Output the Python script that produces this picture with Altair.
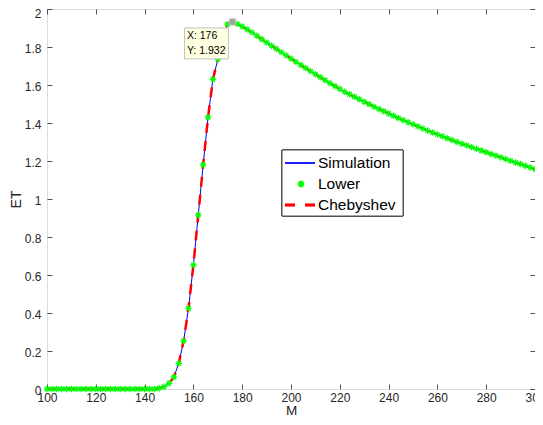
import altair as alt
import pandas as pd

# ---- data ----
M = list(range(100, 302, 2))
ET = [0.0] * 23 + [
    0.004, 0.012, 0.030, 0.063, 0.135, 0.253, 0.425, 0.653,
    0.916, 1.180, 1.430, 1.630, 1.735, 1.830, 1.920, 1.932,
    1.922, 1.908, 1.893, 1.877, 1.859, 1.841, 1.824, 1.807,
    1.790, 1.773, 1.756, 1.739, 1.722, 1.705, 1.689, 1.673,
    1.657, 1.641, 1.625, 1.609, 1.594, 1.579, 1.564, 1.551,
    1.538, 1.525, 1.512, 1.499, 1.486, 1.474, 1.462, 1.450,
    1.438, 1.426, 1.415, 1.404, 1.393, 1.382, 1.371, 1.360,
    1.350, 1.340, 1.330, 1.320, 1.310, 1.300, 1.291, 1.282,
    1.273, 1.264, 1.255, 1.246, 1.237, 1.228, 1.219, 1.210,
    1.201, 1.192, 1.184, 1.175, 1.166, 1.157,
]
SIMULATION = ET
LOWER = ET
CHEBYSHEV = ET
SERIES = ["Simulation", "Lower", "Chebyshev"]
X_TICKS = [100, 120, 140, 160, 180, 200, 220, 240, 260, 280, 300]
Y_TICKS = [0, 0.2, 0.4, 0.6, 0.8, 1, 1.2, 1.4, 1.6, 1.8, 2]

df = pd.DataFrame({"M": M, "Simulation": SIMULATION, "Lower": LOWER, "Chebyshev": CHEBYSHEV})
ipk = SIMULATION.index(max(SIMULATION))
peak = pd.DataFrame({
    "M": [M[ipk]], "ET": [SIMULATION[ipk]],
    "tx": [f"X: {M[ipk]}"], "ty": [f"Y: {SIMULATION[ipk]:.3f}"],
})

FONT = "Liberation Sans"
AX = "#262626"
ASTER = "M-1,0L1,0M0,-1L0,1M-0.7,-0.7L0.7,0.7M-0.7,0.7L0.7,-0.7"
W, H = 488, 380

xs = alt.Scale(domain=[100, 300], nice=False, zero=False)
ys = alt.Scale(domain=[0, 2], nice=False, zero=False)
xax = alt.Axis(values=X_TICKS, labelFlush=False, labelOverlap=False, ticks=False, domain=False,
               grid=True, gridDash=[5, H - 10, 5], gridColor=AX, gridWidth=0.8, gridOpacity=1,
               labelFontSize=12, labelColor=AX, labelPadding=3, labelFont=FONT,
               titleFontSize=13.5, titleFontWeight="normal", titleColor=AX, titleFont=FONT,
               titleY=21.5, titleBaseline="middle")
yax = alt.Axis(values=Y_TICKS, format="~g", labelOverlap=False, ticks=False, domain=False,
               grid=True, gridDash=[5, W - 10, 5], gridColor=AX, gridWidth=0.8, gridOpacity=1,
               labelFontSize=12, labelColor=AX, labelPadding=6, labelFont=FONT,
               labelOffset={"condition": {"test": "datum.value == 2", "value": 4}, "value": 1.5},
               titleFontSize=14, titleFontWeight="normal", titleColor=AX, titleFont=FONT,
               titleX=-31, titleY=H / 2, titleBaseline="middle")


def X(field="M"):
    return alt.X(f"{field}:Q", scale=xs, axis=xax, title="M")


def Y(field):
    return alt.Y(f"{field}:Q", scale=ys, axis=yax, title="ET")


base = alt.Chart(df)
sim = base.mark_line(color="#0000ff", strokeWidth=1, clip=False).encode(x=X(), y=Y("Simulation"))
cheb = base.mark_line(color="#ff0000", strokeWidth=2.5, strokeDash=[10, 8], clip=False).encode(
    x=X(), y=Y("Chebyshev"))
low = base.mark_point(shape=ASTER, size=42, filled=False, stroke="#00ff00", strokeWidth=1.2,
                      opacity=1, clip=False).encode(x=X(), y=Y("Lower"))

pbase = alt.Chart(peak)
tipbox = pbase.mark_rect(fill="#ffffe1", stroke="#c0c0c0", strokeWidth=1,
                         xOffset=-48, x2Offset=-4, yOffset=6, y2Offset=37).encode(
    x=X(), x2="M:Q", y=Y("ET"), y2="ET:Q")
tipsq = pbase.mark_square(size=40, color="#a0a0a0", opacity=1, stroke="#c8c8c8", strokeWidth=0.8).encode(
    x=X(), y=Y("ET"))
tipx = pbase.mark_text(align="left", baseline="middle", dx=-45.5, dy=14.5, fontSize=10.5,
                       font=FONT, color="#000000").encode(x=X(), y=Y("ET"), text="tx:N")
tipy = pbase.mark_text(align="left", baseline="middle", dx=-45.5, dy=29, fontSize=10.5,
                       font=FONT, color="#000000").encode(x=X(), y=Y("ET"), text="ty:N")

# ---- legend box (chrome) ----
leg = alt.Chart(pd.DataFrame({"label": SERIES}))
legbox = leg.mark_rect(fill="white", stroke=AX, strokeWidth=0.8).encode(
    x=alt.value(235), x2=alt.value(356), y=alt.value(141), y2=alt.value(207))
leg1 = leg.mark_rule(color="#0000ff", strokeWidth=1).encode(
    x=alt.value(238), x2=alt.value(268), y=alt.value(154))
leg2 = leg.mark_point(shape=ASTER, size=42, filled=False, stroke="#00ff00", strokeWidth=1.2,
                      opacity=1).encode(x=alt.value(254), y=alt.value(175))
leg3 = leg.mark_rule(color="#ff0000", strokeWidth=2.5, strokeDash=[10, 10]).encode(
    x=alt.value(238), x2=alt.value(268), y=alt.value(196))
legtxt = []
for i, yy in enumerate([154, 175, 196]):
    legtxt.append(
        leg.transform_filter(alt.datum.label == SERIES[i]).mark_text(
            align="left", baseline="middle", fontSize=15.5, font=FONT, color="#000000").encode(
            x=alt.value(271), y=alt.value(yy), text="label:N"))

chart = alt.layer(sim, cheb, low, tipbox, tipsq, tipx, tipy, legbox, leg1, leg2, leg3, *legtxt).properties(
    width=W, height=H,
    autosize=alt.AutoSizeParams(type="none"),
    padding={"left": 39, "top": 1, "right": 0, "bottom": 28},
    background="white",
).configure_view(stroke=AX, strokeWidth=1).configure(font=FONT)

chart.save("out.html", embed_options={"renderer": "svg", "actions": False})
